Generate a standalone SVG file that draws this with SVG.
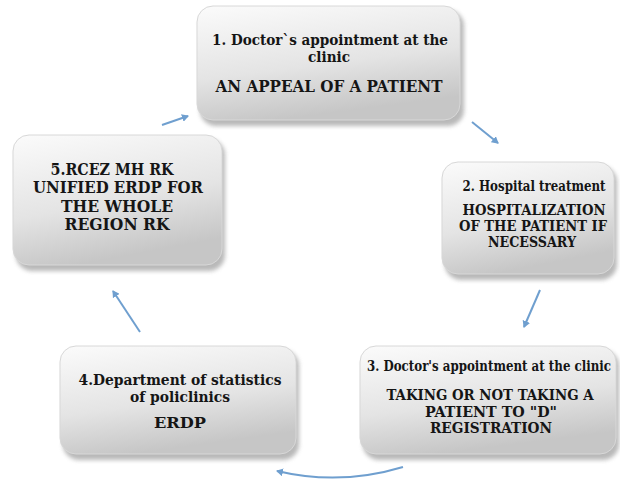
<svg xmlns="http://www.w3.org/2000/svg" width="620" height="479" viewBox="0 0 620 479">
<style>
.box{fill:url(#g);stroke:#d8d8d8;stroke-width:1}
.sh{fill:#8a8a8a;opacity:0.6}
.t{font-family:"DejaVu Serif Condensed","DejaVu Serif","Liberation Serif","Times New Roman",serif;font-stretch:condensed;font-weight:bold;fill:#151515;text-anchor:middle}
.c{fill:none;stroke:#6f9fcf;stroke-width:2;marker-end:url(#ah)}
</style>
<defs>
<linearGradient id="g" x1="0" y1="0" x2="0.3" y2="1">
<stop offset="0" stop-color="#fbfbfb"/>
<stop offset="0.6" stop-color="#e4e4e4"/>
<stop offset="1" stop-color="#c6c6c6"/>
</linearGradient>
<filter id="blur" x="-10%" y="-10%" width="120%" height="130%"><feGaussianBlur stdDeviation="2"/></filter>
<marker id="ah" markerWidth="8" markerHeight="8" refX="6" refY="4" orient="auto" markerUnits="userSpaceOnUse">
<path d="M0,0 L7,4 L0,8 z" fill="#6f9fcf"/>
</marker>
</defs>
<rect width="620" height="479" fill="#ffffff"/>
<g id="connectors">
<path class="c" d="M162,125 L188,116"/>
<path class="c" d="M472,122 L498,143"/>
<path class="c" d="M540,290 L524,327"/>
<path class="c" d="M403,467 Q340,486 277,471"/>
<path class="c" d="M140,332 L113,291"/>
</g>
<g id="node1">
<rect class="sh" x="200" y="10" width="264" height="116" rx="16" filter="url(#blur)"/>
<rect class="box" x="197" y="6" width="263" height="114" rx="16"/>
<text class="t" x="330" y="45" font-size="15" textLength="236" lengthAdjust="spacingAndGlyphs">1. Doctor`s appointment at the</text>
<text class="t" x="329" y="62" font-size="15" textLength="42" lengthAdjust="spacingAndGlyphs">clinic</text>
<text class="t" x="329" y="92" font-size="16" textLength="227" lengthAdjust="spacingAndGlyphs">AN APPEAL OF A PATIENT</text>
</g>
<g id="node2">
<rect class="sh" x="445" y="166" width="172" height="114" rx="16" filter="url(#blur)"/>
<rect class="box" x="442" y="162" width="172" height="112" rx="16"/>
<text class="t" x="534" y="191" font-size="14" textLength="143" lengthAdjust="spacingAndGlyphs">2. Hospital treatment</text>
<text class="t" x="534" y="215" font-size="14" textLength="143" lengthAdjust="spacingAndGlyphs">HOSPITALIZATION</text>
<text class="t" x="533" y="231" font-size="14" textLength="148" lengthAdjust="spacingAndGlyphs">OF THE PATIENT IF</text>
<text class="t" x="532" y="247" font-size="14" textLength="88" lengthAdjust="spacingAndGlyphs">NECESSARY</text>
</g>
<g id="node3">
<rect class="sh" x="363" y="350" width="256" height="110" rx="16" filter="url(#blur)"/>
<rect class="box" x="360" y="346" width="256" height="108" rx="16"/>
<text class="t" x="489" y="371" font-size="14" textLength="244" lengthAdjust="spacingAndGlyphs">3. Doctor's appointment at the clinic</text>
<text class="t" x="490" y="400" font-size="14" textLength="207" lengthAdjust="spacingAndGlyphs">TAKING OR NOT TAKING A</text>
<text class="t" x="491" y="417" font-size="14" textLength="132" lengthAdjust="spacingAndGlyphs">PATIENT  TO "D"</text>
<text class="t" x="491" y="433" font-size="14" textLength="122" lengthAdjust="spacingAndGlyphs">REGISTRATION</text>
</g>
<g id="node4">
<rect class="sh" x="63" y="350" width="236" height="110" rx="16" filter="url(#blur)"/>
<rect class="box" x="60" y="346" width="236" height="108" rx="16"/>
<text class="t" x="180" y="385" font-size="15" textLength="203" lengthAdjust="spacingAndGlyphs">4.Department of statistics</text>
<text class="t" x="180" y="402" font-size="15" textLength="100" lengthAdjust="spacingAndGlyphs">of policlinics</text>
<text class="t" x="180" y="428" font-size="15" textLength="52" lengthAdjust="spacingAndGlyphs">ERDP</text>
</g>
<g id="node5">
<rect class="sh" x="16" y="139" width="209" height="132" rx="16" filter="url(#blur)"/>
<rect class="box" x="13" y="135" width="209" height="130" rx="16"/>
<text class="t" x="112" y="175" font-size="16" textLength="123" lengthAdjust="spacingAndGlyphs">5.RCEZ MH RK</text>
<text class="t" x="118" y="193" font-size="16" textLength="170" lengthAdjust="spacingAndGlyphs">UNIFIED ERDP FOR</text>
<text class="t" x="117" y="212" font-size="16" textLength="112" lengthAdjust="spacingAndGlyphs">THE WHOLE</text>
<text class="t" x="117" y="230" font-size="16" textLength="105" lengthAdjust="spacingAndGlyphs">REGION RK</text>
</g>
</svg>
